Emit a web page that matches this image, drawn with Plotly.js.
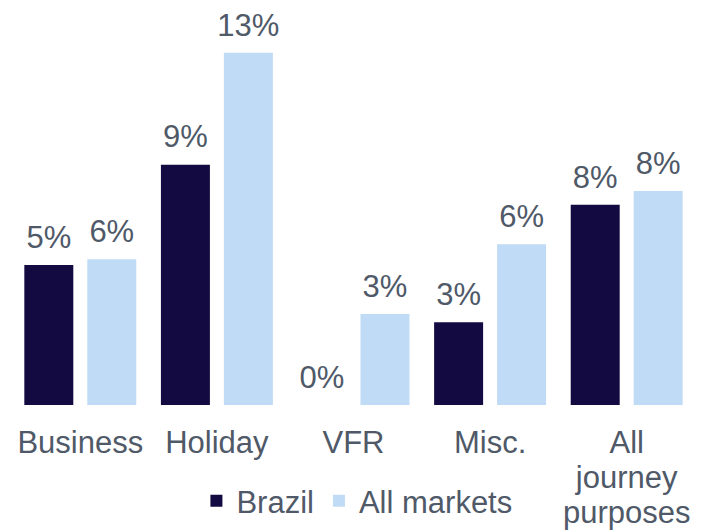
<!DOCTYPE html>
<html>
<head>
<meta charset="utf-8">
<script src="https://cdn.plot.ly/plotly-3.0.1.min.js"></script>
<style>html,body{margin:0;padding:0;background:#fff;}#chart{width:707px;height:532px;}</style>
</head>
<body>
<div id="chart"></div>
<script>
const categories = ["Business", "Holiday", "VFR", "Misc.", "All journey purposes"];
const categoryLines = [["Business"], ["Holiday"], ["VFR"], ["Misc."], ["All", "journey", "purposes"]];
const brazilValues = [5.17, 8.87, 0, 3.05, 7.39];
const allMarketsValues = [5.38, 13.0, 3.36, 5.93, 7.9];
const brazilLabels = ["5%", "9%", "0%", "3%", "8%"];
const allMarketsLabels = ["6%", "13%", "3%", "6%", "8%"];

const textColor = "#4f5968";
const fontFamily = "Liberation Sans, Arial, sans-serif";
const fs = 31;

// tick text: lines drawn at 31px, line spacing driven by the smaller base tick font
const tickTexts = categoryLines.map(lines =>
  lines.map(l => '<span style="font-size:' + fs + 'px">' + l + '</span>').join('<br>'));

function labelTrace(values, labels) {
  return {
    type: "scatter", mode: "markers+text", x: categories, y: values,
    text: labels, textposition: "top center", cliponaxis: false,
    marker: {size: 13.6, opacity: 0, color: "#fff"},
    textfont: {family: fontFamily, size: fs, color: textColor},
    showlegend: false, hoverinfo: "skip"
  };
}

const traces = [
  {
    type: "bar", name: "Brazil", x: categories, y: brazilValues,
    marker: {color: "#140a42"}, hoverinfo: "skip"
  },
  {
    type: "bar", name: "All markets", x: categories, y: allMarketsValues,
    marker: {color: "#c0dbf5"}, hoverinfo: "skip"
  },
  labelTrace(brazilValues, brazilLabels),
  labelTrace(allMarketsValues, allMarketsLabels)
];

const layout = {
  width: 707, height: 532,
  margin: {l: 12, r: 12, t: 10, b: 127},
  paper_bgcolor: "#fff", plot_bgcolor: "#fff",
  barmode: "group", bargap: 0.078, bargroupgap: 0.222,
  scattermode: "group", scattergap: 0.078,
  font: {family: fontFamily, size: fs, color: textColor},
  xaxis: {
    showline: false, showgrid: false, zeroline: false, ticks: "",
    tickmode: "array", tickvals: categories, ticktext: tickTexts,
    tickfont: {family: fontFamily, size: 27, color: textColor},
    ticklabelstandoff: 20, tickangle: 0,
    automargin: false
  },
  yaxis: {
    range: [0, 14.58], visible: false, showgrid: false, zeroline: false
  },
  showlegend: true,
  legend: {
    orientation: "h", x: 0.505, xanchor: "center",
    yref: "container", y: 0.058, yanchor: "middle",
    font: {family: fontFamily, size: fs, color: textColor},
    traceorder: "normal", itemwidth: 30
  }
};

Plotly.newPlot("chart", traces, layout, {staticPlot: true, displayModeBar: false});
</script>
</body>
</html>
